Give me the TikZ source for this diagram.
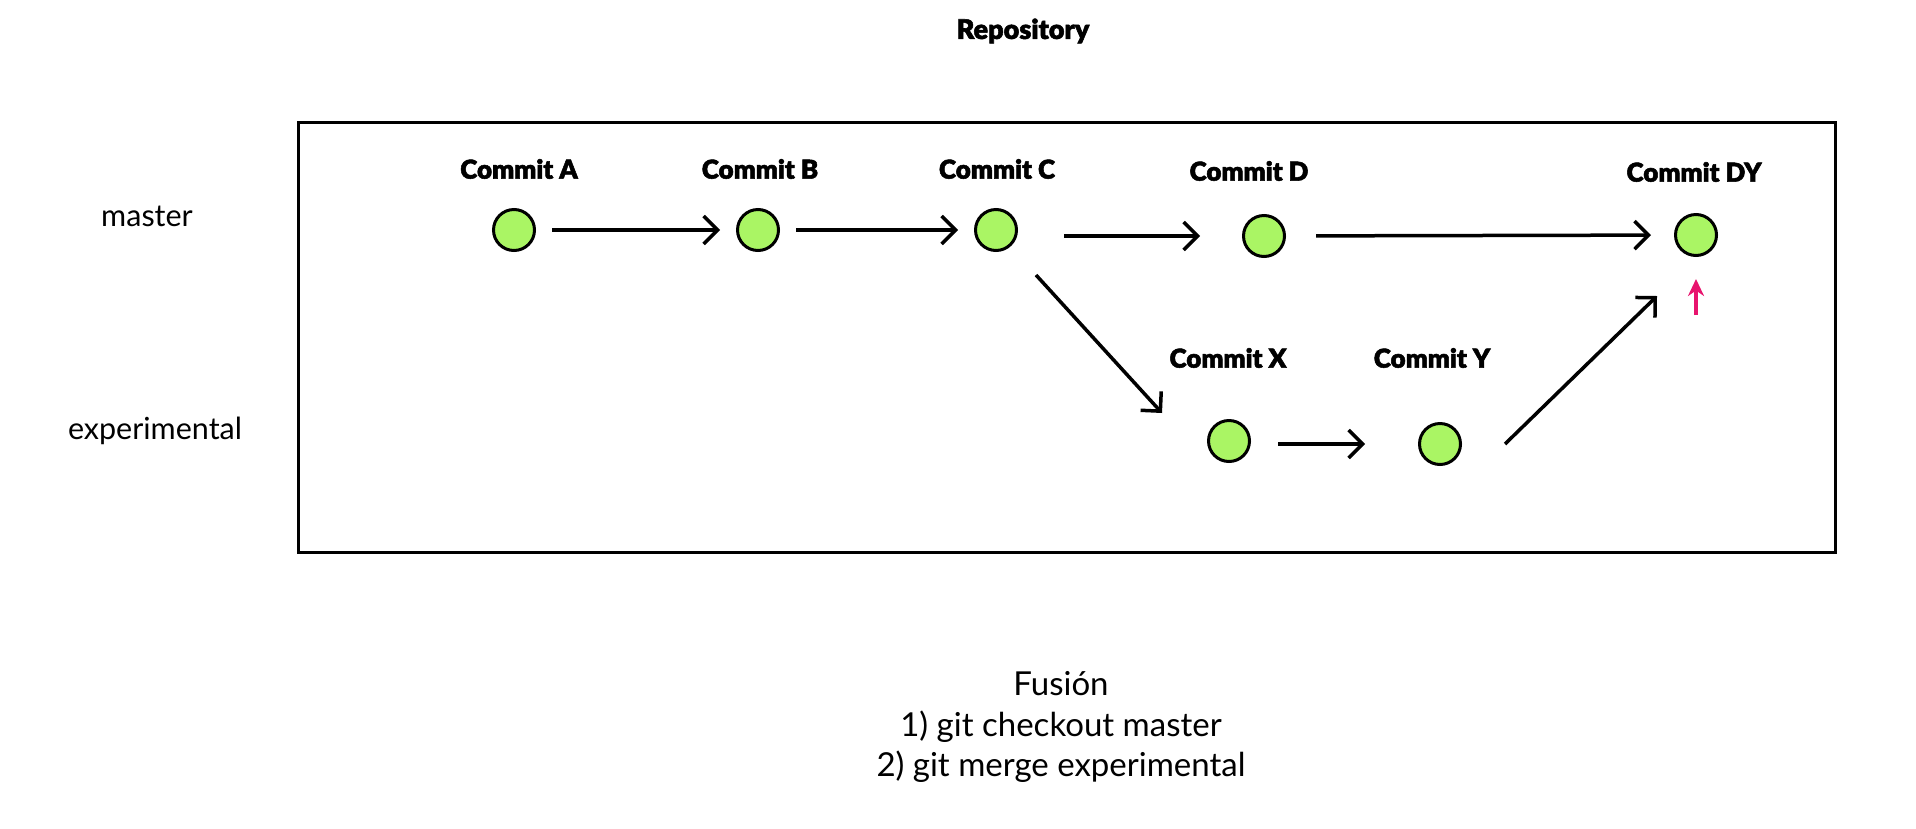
\documentclass[tikz,border=0pt]{standalone}
\usepackage{fontspec}
\setmainfont{Lato}
\newfontfamily\heavy{Lato Black}[FakeBold=2]
\usetikzlibrary{arrows.meta}
\definecolor{commitgreen}{RGB}{170,245,100}
\definecolor{pinkred}{RGB}{232,20,110}
\tikzset{
  commit/.style={circle,draw=black,line width=3pt,fill=commitgreen,minimum size=41pt,inner sep=0pt},
  clabel/.style={font=\heavy\fontsize{26}{30}\selectfont,inner sep=0pt},
  plain/.style={font=\fontsize{30.5}{36}\selectfont,inner sep=0pt},
  arr/.style={line width=3.5pt,-{Straight Barb[length=14pt,width=28pt,line width=3.5pt]}},
}
\begin{document}
\begin{tikzpicture}[x=1pt,y=-1pt]
\useasboundingbox (0,0) rectangle (1916,828);
\node[font=\heavy\fontsize{27}{32}\selectfont,inner sep=0pt] (title) at (1023,31) {Repository};
\node[draw=black,line width=3pt,minimum width=1537pt,minimum height=430pt,anchor=north west,inner sep=0pt] (repo) at (297,121) {};
\node[plain] (lmaster) at (147,216) {master};
\node[plain] (lexp) at (155,431) {experimental};

\node[commit] (A) at (514,230) {};
\node[commit] (B) at (758,230) {};
\node[commit] (C) at (996,230) {};
\node[commit] (D) at (1264,236) {};
\node[commit] (DY) at (1696,235) {};
\node[commit] (X) at (1229,441) {};
\node[commit] (Y) at (1440,444) {};

\node[clabel] (la) at (519,169) {Commit A};
\node[clabel] (lb) at (760,169) {Commit B};
\node[clabel] (lc) at (997,169) {Commit C};
\node[clabel] (ld) at (1249,171) {Commit D};
\node[clabel] (ldy) at (1694,172) {Commit DY};
\node[clabel] (lx) at (1228,358) {Commit X};
\node[clabel] (ly) at (1432,358) {Commit Y};

\draw[arr,shorten <=16pt,shorten >=16pt] (A) -- (B);
\draw[arr,shorten <=16pt,shorten >=16pt] (B) -- (C);
\draw[arr] ([xshift=68pt,yshift=-6pt]C.center) -- ([xshift=-64pt]D.center);
\draw[arr,shorten <=30pt,shorten >=23pt] (D) -- (DY);
\draw[arr] ([xshift=40pt,yshift=-45pt]C.center) -- ([xshift=-67pt,yshift=28pt]X.center);
\draw[arr] ([xshift=49pt,yshift=-3pt]X.center) -- ([xshift=-75pt]Y.center);
\draw[arr] ([xshift=65pt]Y.center) -- ([xshift=-39pt,yshift=-61pt]DY.center);
\draw[pinkred,line width=3.5pt,-{Stealth[length=17pt,width=16pt]}] ([yshift=-80pt]DY.center) -- ([yshift=-44pt]DY.center);

\node[plain,align=center,font=\fontsize{33}{40.5}\selectfont] (fusion) at (1061,727) {Fusión\\1) git checkout master\\2) git merge experimental};
\end{tikzpicture}
\end{document}
